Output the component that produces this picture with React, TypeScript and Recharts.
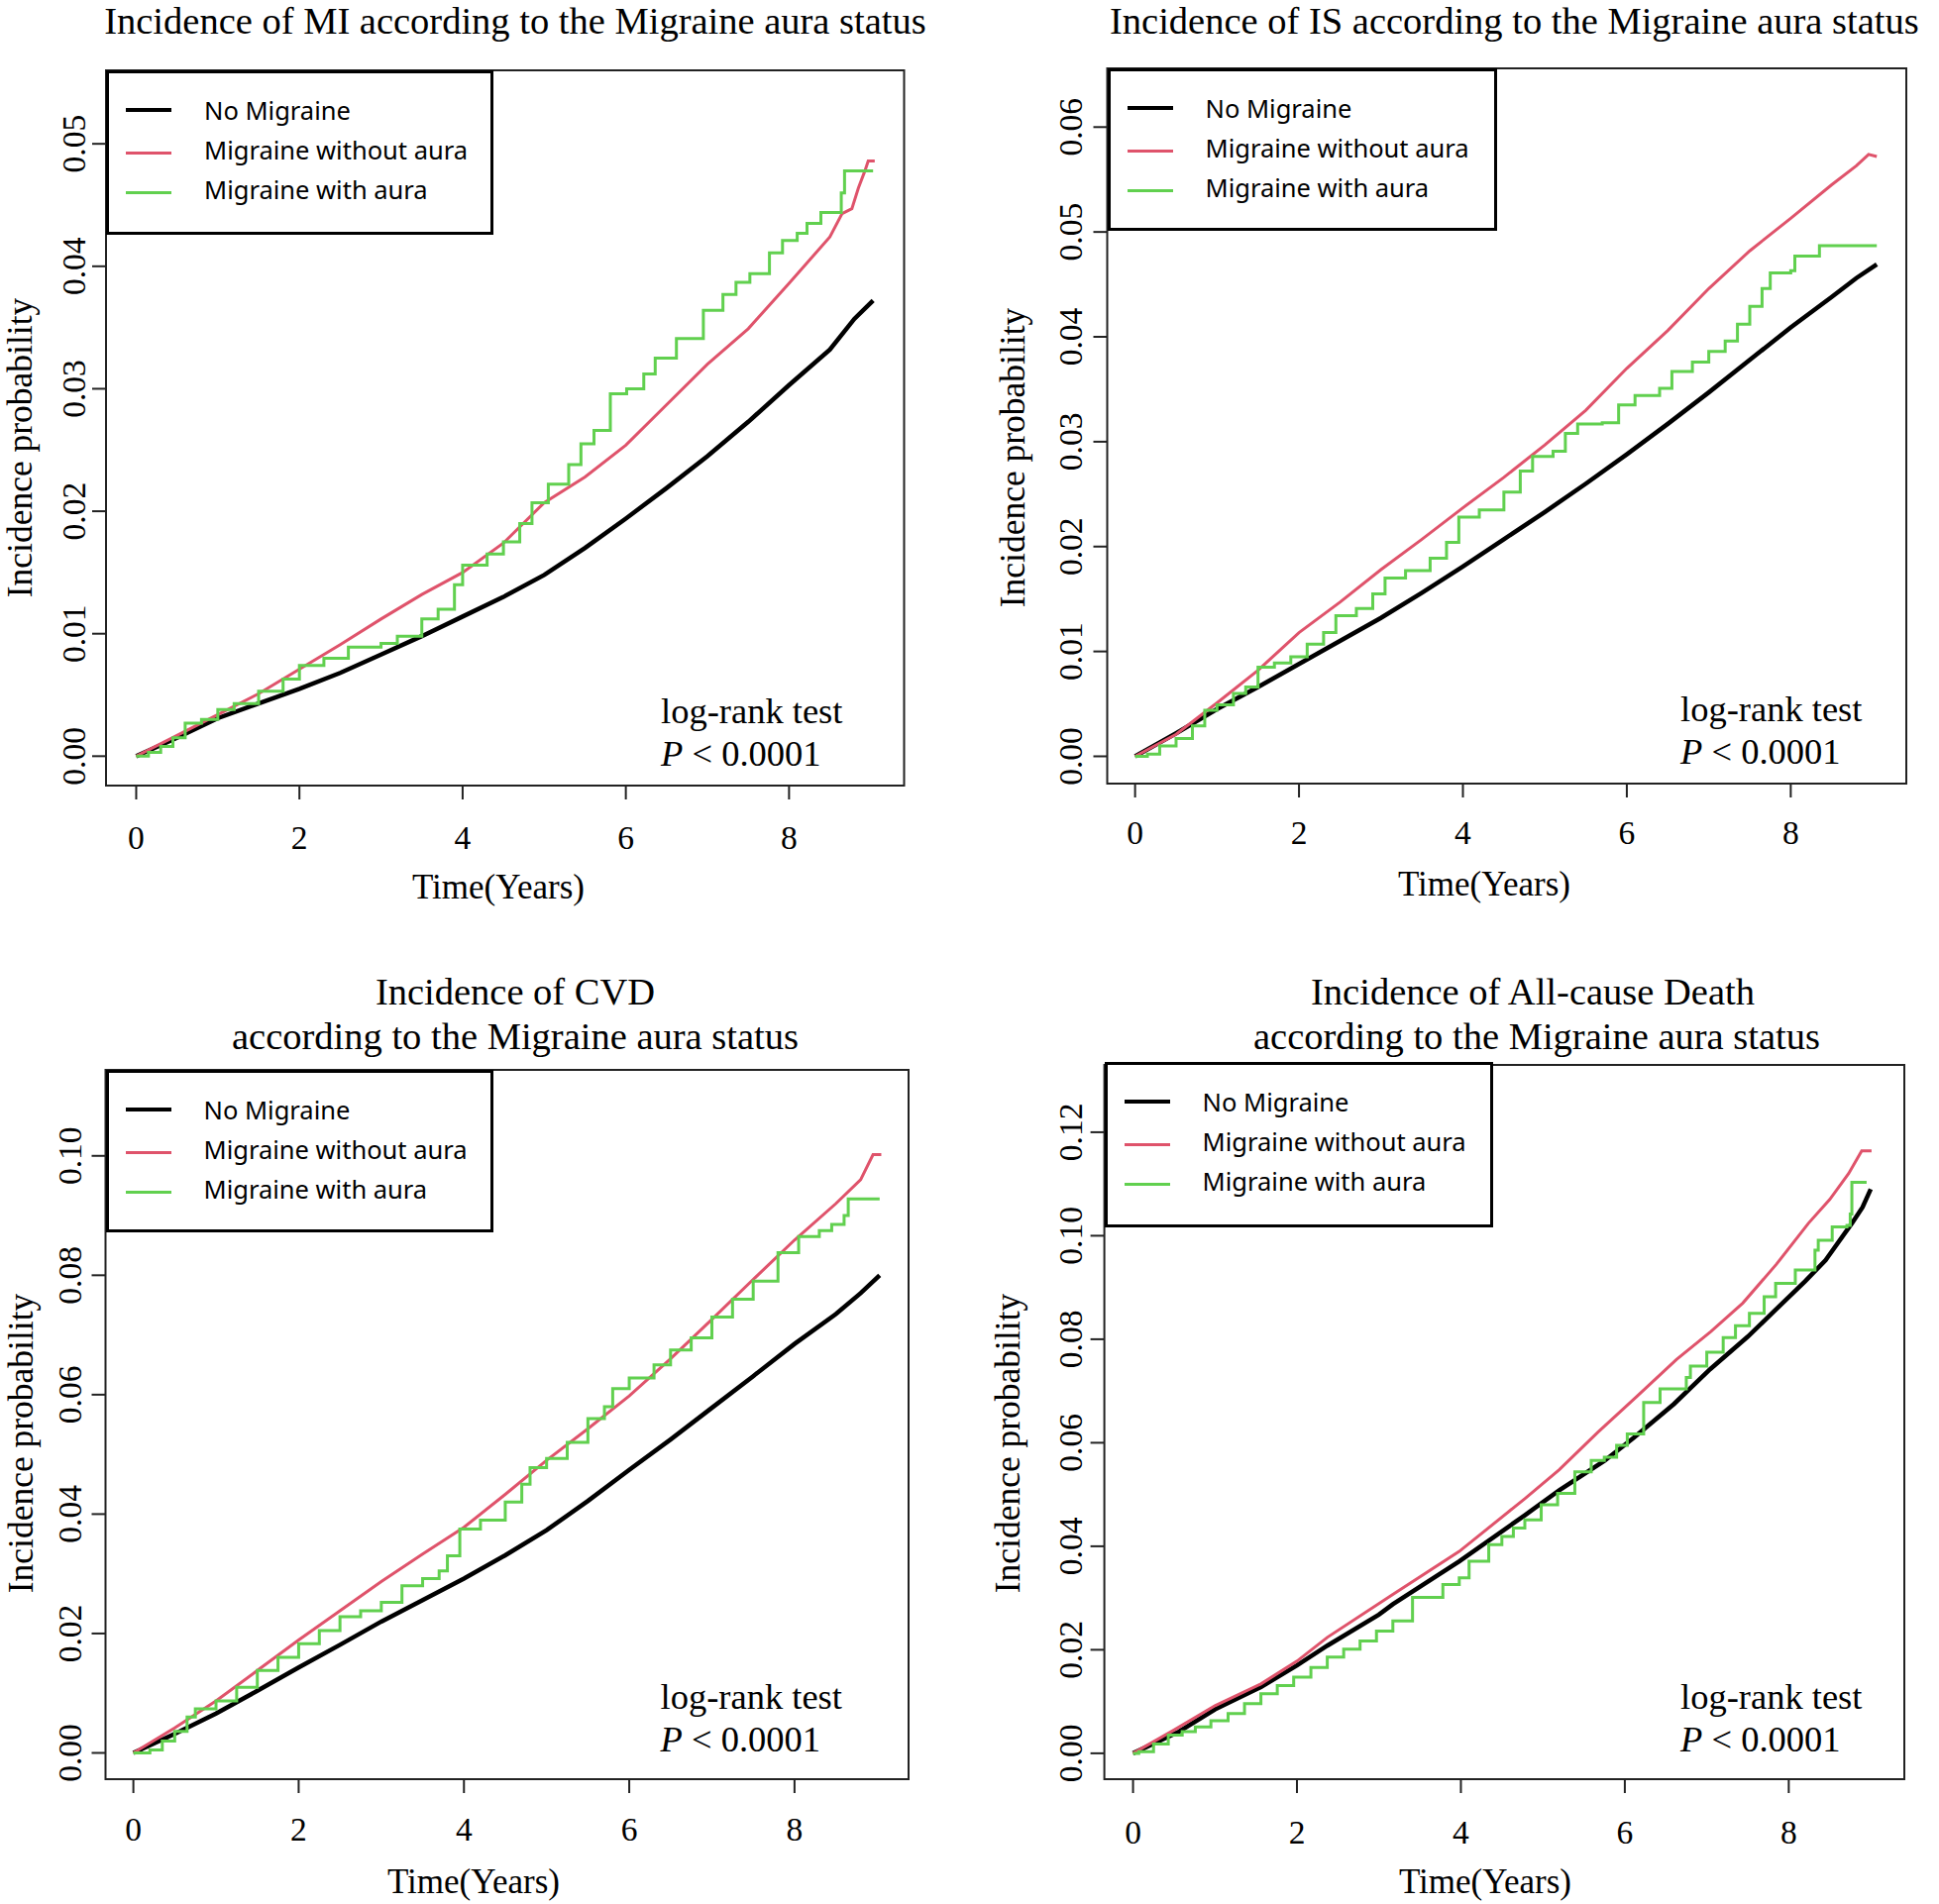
import React from 'react';
import { LineChart, Line, XAxis, YAxis, ReferenceArea, Legend } from 'recharts';

// ---------- shared labels ----------
const SERIES_NAMES = ['No Migraine', 'Migraine without aura', 'Migraine with aura'];
const SERIES_COLORS = ['#000000', '#DF536B', '#61D04F'];
const X_TICKS = [0, 2, 4, 6, 8];
const Y_TICKS_MI = [0, 0.01, 0.02, 0.03, 0.04, 0.05];
const Y_TICKS_IS = [0, 0.01, 0.02, 0.03, 0.04, 0.05, 0.06];
const Y_TICKS_CVD = [0, 0.02, 0.04, 0.06, 0.08, 0.1];
const Y_TICKS_DEATH = [0, 0.02, 0.04, 0.06, 0.08, 0.1, 0.12];

// ---------- MI ----------
const MI_NO_MIGRAINE = [[0,0],[0.5,0.0015],[1,0.0031],[1.5,0.0043],[2,0.0055],[2.5,0.0068],[3,0.0083],[3.5,0.0098],[4,0.0114],[4.5,0.013],[5,0.0148],[5.5,0.017],[6,0.0194],[6.5,0.0219],[7,0.0245],[7.5,0.0273],[8,0.0303],[8.5,0.0332],[8.8,0.0357],[9.03,0.0372]];
const MI_WITHOUT_AURA = [[0,0],[0.5,0.0017],[1,0.0034],[1.5,0.0051],[2,0.0071],[2.5,0.0091],[3,0.0112],[3.5,0.0132],[4,0.015],[4.5,0.0174],[5,0.0207],[5.5,0.0228],[6,0.0254],[6.5,0.0287],[7,0.032],[7.5,0.0349],[8,0.0386],[8.5,0.0424],[8.65,0.0443],[8.77,0.0447],[8.85,0.0464],[8.93,0.0478],[8.97,0.0486],[9.05,0.0486]];
const MI_WITH_AURA = [[0,0],[0.15,0.0003],[0.3,0.0008],[0.45,0.0015],[0.6,0.0027],[0.8,0.003],[1,0.0038],[1.2,0.0043],[1.5,0.0053],[1.8,0.0063],[2,0.0074],[2.3,0.008],[2.6,0.0089],[3,0.0092],[3.2,0.0098],[3.5,0.0112],[3.7,0.012],[3.9,0.014],[4,0.0156],[4.3,0.0165],[4.5,0.0175],[4.7,0.019],[4.85,0.0207],[5.05,0.0222],[5.3,0.0238],[5.45,0.0255],[5.61,0.0266],[5.81,0.0296],[6.01,0.03],[6.22,0.0312],[6.36,0.0325],[6.62,0.0341],[6.95,0.0364],[7.19,0.0377],[7.35,0.0387],[7.52,0.0394],[7.76,0.0411],[7.92,0.0421],[8.1,0.0427],[8.22,0.0435],[8.39,0.0444],[8.64,0.046],[8.68,0.0478],[9.03,0.0478]];

// ---------- IS ----------
const IS_NO_MIGRAINE = [[0,0],[0.5,0.0022],[1,0.0045],[1.5,0.0066],[2,0.0088],[2.5,0.011],[3,0.0132],[3.5,0.0156],[4,0.0181],[4.5,0.0207],[5,0.0233],[5.5,0.026],[6,0.0288],[6.5,0.0317],[7,0.0347],[7.5,0.0378],[8,0.0409],[8.5,0.0438],[8.8,0.0456],[9.05,0.0469]];
const IS_WITHOUT_AURA = [[0,0],[0.5,0.0021],[1,0.0051],[1.5,0.0082],[2,0.0118],[2.5,0.0147],[3,0.0178],[3.5,0.0207],[4,0.0237],[4.5,0.0266],[5,0.0297],[5.5,0.033],[6,0.037],[6.5,0.0406],[7,0.0446],[7.5,0.0482],[8,0.0513],[8.5,0.0545],[8.8,0.0563],[8.95,0.0574],[9.05,0.0572]];
const IS_WITH_AURA = [[0,0],[0.15,0.0002],[0.3,0.001],[0.5,0.0017],[0.7,0.0029],[0.85,0.0044],[1,0.0049],[1.2,0.006],[1.35,0.0066],[1.5,0.0085],[1.7,0.0089],[1.9,0.0095],[2.1,0.0107],[2.3,0.0118],[2.45,0.0134],[2.7,0.0141],[2.9,0.0155],[3.05,0.017],[3.3,0.0177],[3.6,0.0189],[3.8,0.0204],[3.95,0.0228],[4.2,0.0235],[4.5,0.0252],[4.7,0.0272],[4.85,0.0286],[5.1,0.0291],[5.25,0.0308],[5.4,0.0317],[5.7,0.0318],[5.9,0.0335],[6.1,0.0344],[6.4,0.0351],[6.55,0.0367],[6.8,0.0376],[7,0.0386],[7.2,0.0396],[7.35,0.0412],[7.5,0.0429],[7.65,0.0446],[7.75,0.0461],[8,0.0463],[8.05,0.0477],[8.35,0.0487],[9.05,0.0487]];

// ---------- CVD ----------
const CVD_NO_MIGRAINE = [[0,0],[0.5,0.0032],[1,0.0066],[1.5,0.0104],[2,0.0143],[2.5,0.0181],[3,0.022],[3.5,0.0256],[4,0.0292],[4.5,0.0331],[5,0.0373],[5.5,0.0422],[6,0.0474],[6.5,0.0525],[7,0.0578],[7.5,0.0631],[8,0.0685],[8.5,0.0735],[8.8,0.077],[9.03,0.08]];
const CVD_WITHOUT_AURA = [[0,0],[0.5,0.0042],[1,0.0087],[1.5,0.0138],[2,0.0189],[2.5,0.0238],[3,0.0287],[3.5,0.0333],[4,0.0378],[4.5,0.0433],[5,0.049],[5.5,0.0543],[6,0.0598],[6.5,0.066],[7,0.0726],[7.5,0.0793],[8,0.0859],[8.5,0.092],[8.8,0.096],[8.95,0.1002],[9.05,0.1002]];
const CVD_WITH_AURA = [[0,0],[0.2,0.0005],[0.35,0.002],[0.5,0.0036],[0.65,0.006],[0.75,0.0074],[1,0.0087],[1.25,0.011],[1.5,0.0138],[1.75,0.016],[2,0.0183],[2.25,0.0205],[2.5,0.0228],[2.75,0.0238],[3,0.0252],[3.25,0.028],[3.5,0.0292],[3.7,0.0305],[3.8,0.033],[3.95,0.0375],[4.2,0.039],[4.5,0.042],[4.7,0.045],[4.8,0.0478],[5,0.0493],[5.25,0.052],[5.5,0.056],[5.7,0.058],[5.8,0.061],[6,0.0628],[6.3,0.065],[6.5,0.0675],[6.75,0.0695],[7,0.073],[7.25,0.076],[7.5,0.079],[7.8,0.0838],[8.05,0.0865],[8.3,0.0875],[8.45,0.0885],[8.6,0.09],[8.65,0.0928],[9.03,0.0928]];

// ---------- All-cause death ----------
const DEATH_NO_MIGRAINE = [[0,0],[0.56,0.0042],[1,0.0085],[1.56,0.0128],[2,0.017],[2.37,0.0208],[3,0.0268],[3.17,0.0288],[3.98,0.0371],[4.78,0.046],[5.2,0.0508],[5.75,0.0565],[6.11,0.061],[6.6,0.0675],[7.04,0.0742],[7.5,0.0805],[7.84,0.0857],[8.2,0.0912],[8.45,0.0953],[8.77,0.1024],[8.9,0.1055],[9.0,0.109]];
const DEATH_WITHOUT_AURA = [[0,0],[0.5,0.0045],[1,0.0092],[1.56,0.0134],[2,0.0178],[2.37,0.0224],[3.17,0.0307],[3.98,0.039],[4.78,0.0492],[5.2,0.0548],[5.67,0.062],[6.15,0.069],[6.63,0.0761],[7.05,0.0815],[7.44,0.087],[7.85,0.0945],[8.24,0.1024],[8.5,0.107],[8.73,0.112],[8.89,0.1164],[9.01,0.1164]];
const DEATH_WITH_AURA = [[0,0],[0.07,0.0003],[0.25,0.0018],[0.43,0.0035],[0.6,0.0042],[0.76,0.0051],[0.95,0.0063],[1.16,0.0077],[1.36,0.0096],[1.56,0.0115],[1.76,0.0131],[1.96,0.0147],[2.17,0.0166],[2.37,0.0186],[2.57,0.0201],[2.77,0.0217],[2.97,0.0236],[3.17,0.0256],[3.41,0.0301],[3.57,0.0301],[3.78,0.0326],[3.98,0.0339],[4.1,0.0371],[4.34,0.0403],[4.5,0.0419],[4.64,0.0435],[4.78,0.0451],[4.98,0.048],[5.18,0.0502],[5.39,0.0544],[5.59,0.0566],[5.75,0.0572],[5.9,0.0595],[6.03,0.0617],[6.23,0.0678],[6.43,0.0704],[6.75,0.0726],[6.8,0.0748],[7,0.0775],[7.2,0.0803],[7.35,0.0826],[7.52,0.085],[7.7,0.0882],[7.84,0.0908],[8.08,0.0934],[8.32,0.0972],[8.36,0.0991],[8.53,0.1017],[8.71,0.102],[8.75,0.1042],[8.77,0.1103],[8.95,0.1103]];

// ---------- layout / style ----------
const SERIF = '"Liberation Serif", "Times New Roman", serif';
const SANS = '"Noto Sans", "Open Sans", sans-serif';
const CW = 979;
const CH = 961;
const YW = 100;
const XH = 100;
const LINE_WIDTHS = [4.5, 3, 3];
const LINE_TYPES: any[] = ['linear', 'linear', 'stepAfter'];

const toPts = (arr: number[][]) => arr.map(([t, p]) => ({ t, p }));

const PANELS = [
  {
    key: 'mi', ox: 0, oy: 0,
    series: [MI_NO_MIGRAINE, MI_WITHOUT_AURA, MI_WITH_AURA],
    yTicks: Y_TICKS_MI, xDom: [-0.37, 9.41], yDom: [-0.0024, 0.056],
    L: 107, R: 912.5, T: 71, B: 793,
    leg: { left: 107, top: 71, w: 391, h: 166 },
    titles: [{ text: 'Incidence of MI according to the Migraine aura status', x: 520, y: 34, anchor: 'middle' }],
    yTitle: { x: 32, y: 452 }, xTitle: { x: 503, y: 907 },
    lr: { x: 667, y1: 730, y2: 773 }, xTickY: 857, yTickX: 86,
  },
  {
    key: 'is', ox: 978, oy: 0,
    series: [IS_NO_MIGRAINE, IS_WITHOUT_AURA, IS_WITH_AURA],
    yTicks: Y_TICKS_IS, xDom: [-0.34, 9.41], yDom: [-0.0026, 0.0656],
    L: 139.5, R: 946, T: 69, B: 791,
    leg: { left: 139.5, top: 69, w: 393, h: 164 },
    titles: [{ text: 'Incidence of IS according to the Migraine aura status', x: 142, y: 34, anchor: 'start' }],
    yTitle: { x: 56, y: 462 }, xTitle: { x: 520, y: 904 },
    lr: { x: 718, y1: 728, y2: 771 }, xTickY: 852, yTickX: 114,
  },
  {
    key: 'cvd', ox: 0, oy: 961,
    series: [CVD_NO_MIGRAINE, CVD_WITHOUT_AURA, CVD_WITH_AURA],
    yTicks: Y_TICKS_CVD, xDom: [-0.337, 9.38], yDom: [-0.0044, 0.1144],
    L: 106.5, R: 917, T: 119, B: 835,
    leg: { left: 106.5, top: 119, w: 391, h: 164 },
    titles: [
      { text: 'Incidence of CVD', x: 520, y: 53, anchor: 'middle' },
      { text: 'according to the Migraine aura status', x: 520, y: 98, anchor: 'middle' },
    ],
    yTitle: { x: 33, y: 496 }, xTitle: { x: 478, y: 950 },
    lr: { x: 666.5, y1: 764, y2: 807 }, xTickY: 897, yTickX: 82,
  },
  {
    key: 'death', ox: 978, oy: 961,
    series: [DEATH_NO_MIGRAINE, DEATH_WITHOUT_AURA, DEATH_WITH_AURA],
    yTicks: Y_TICKS_DEATH, xDom: [-0.35, 9.41], yDom: [-0.005, 0.133],
    L: 136.6, R: 944, T: 114, B: 835,
    leg: { left: 136.6, top: 111, w: 392, h: 167 },
    titles: [
      { text: 'Incidence of All-cause Death', x: 569, y: 53, anchor: 'middle' },
      { text: 'according to the Migraine aura status', x: 573, y: 98, anchor: 'middle' },
    ],
    yTitle: { x: 51, y: 496 }, xTitle: { x: 521, y: 950 },
    lr: { x: 718, y1: 764, y2: 807 }, xTickY: 900, yTickX: 114,
  },
];

const makeLegend = (leg: any) => (props: any) => {
  const payload = [...(props.payload || [])].sort(
    (a: any, b: any) => SERIES_NAMES.indexOf(a.value) - SERIES_NAMES.indexOf(b.value)
  );
  const rowCenters = [40, 80, 120];
  const lineOffsets = [0, 3, 3];
  return (
    <div
      style={{
        boxSizing: 'border-box', width: leg.w, height: leg.h, border: '3px solid #000',
        background: '#fff', position: 'relative', fontFamily: SANS,
      }}
    >
      {payload.map((entry: any, i: number) => {
        const idx = SERIES_NAMES.indexOf(entry.value);
        const lw = LINE_WIDTHS[idx] ?? 3;
        const c = rowCenters[i] - 3;
        return (
          <React.Fragment key={entry.value}>
            <div
              style={{
                position: 'absolute', left: 17, width: 46, height: lw,
                top: c + lineOffsets[i] - lw / 2, background: SERIES_COLORS[idx] ?? entry.color,
              }}
            />
            <div
              style={{
                position: 'absolute', left: 96, top: c - 20, height: 40, lineHeight: '40px',
                fontSize: 25.5, color: '#000', whiteSpace: 'nowrap',
              }}
            >
              {entry.value}
            </div>
          </React.Fragment>
        );
      })}
    </div>
  );
};

const Panel = ({ cfg }: { cfg: any }) => {
  const margin = { top: cfg.T, right: CW - cfg.R, bottom: CH - cfg.B - XH, left: cfg.L - YW };
  const XTick = (p: any) => (
    <text x={p.x} y={cfg.xTickY} textAnchor="middle" fontFamily={SERIF} fontSize={33.5} fill="#000">
      {p.payload.value}
    </text>
  );
  const YTick = (p: any) => (
    <text
      x={cfg.yTickX} y={p.y} textAnchor="middle" fontFamily={SERIF} fontSize={33.5} fill="#000"
      transform={`rotate(-90, ${cfg.yTickX}, ${p.y})`}
    >
      {Number(p.payload.value).toFixed(2)}
    </text>
  );
  return (
    <div style={{ position: 'absolute', left: cfg.ox, top: cfg.oy, width: CW, height: CH }}>
      <LineChart width={CW} height={CH} margin={margin}>
        <XAxis
          type="number" dataKey="t" domain={cfg.xDom} ticks={X_TICKS} allowDataOverflow
          height={XH} tickSize={14} axisLine={false} stroke="#222"
          tickLine={{ stroke: '#222', strokeWidth: 2 }} tick={XTick} interval={0}
        />
        <YAxis
          type="number" domain={cfg.yDom} ticks={cfg.yTicks} allowDataOverflow
          width={YW} tickSize={14} axisLine={false} stroke="#222"
          tickLine={{ stroke: '#222', strokeWidth: 2 }} tick={YTick} interval={0}
        />
        <ReferenceArea
          x1={cfg.xDom[0]} x2={cfg.xDom[1]} y1={cfg.yDom[0]} y2={cfg.yDom[1]}
          fill="none" fillOpacity={0} stroke="#222" strokeWidth={2} ifOverflow="visible"
        />
        {cfg.series.map((s: number[][], i: number) => (
          <Line
            key={SERIES_NAMES[i]}
            data={toPts(s)}
            dataKey="p"
            name={SERIES_NAMES[i]}
            type={LINE_TYPES[i]}
            stroke={SERIES_COLORS[i]}
            strokeWidth={LINE_WIDTHS[i]}
            dot={false}
            activeDot={false}
            legendType="line"
            isAnimationActive={false}
          />
        ))}
        <Legend
          layout="vertical" align="center" verticalAlign="middle"
          content={makeLegend(cfg.leg)}
          wrapperStyle={{ left: cfg.leg.left, top: cfg.leg.top, width: cfg.leg.w, height: cfg.leg.h, margin: 0, padding: 0 }}
        />
        {cfg.titles.map((t: any) => (
          <text key={t.text} x={t.x} y={t.y} textAnchor={t.anchor} fontFamily={SERIF} fontSize={38.5} fill="#000">
            {t.text}
          </text>
        ))}
        <text
          x={cfg.yTitle.x} y={cfg.yTitle.y} textAnchor="middle" fontFamily={SERIF} fontSize={35.5} fill="#000"
          transform={`rotate(-90, ${cfg.yTitle.x}, ${cfg.yTitle.y})`}
        >
          Incidence probability
        </text>
        <text x={cfg.xTitle.x} y={cfg.xTitle.y} textAnchor="middle" fontFamily={SERIF} fontSize={35} fill="#000">
          Time(Years)
        </text>
        <text x={cfg.lr.x} y={cfg.lr.y1} fontFamily={SERIF} fontSize={36.5} fill="#000">log-rank test</text>
        <text x={cfg.lr.x} y={cfg.lr.y2} fontFamily={SERIF} fontSize={36.5} fill="#000">
          <tspan fontStyle="italic">P</tspan>
          <tspan> &lt; 0.0001</tspan>
        </text>
      </LineChart>
    </div>
  );
};

export default function App() {
  return (
    <div style={{ position: 'absolute', left: 0, top: 0, width: 1957, height: 1922, background: '#fff', overflow: 'hidden' }}>
      {PANELS.map((cfg) => (
        <Panel key={cfg.key} cfg={cfg} />
      ))}
    </div>
  );
}
